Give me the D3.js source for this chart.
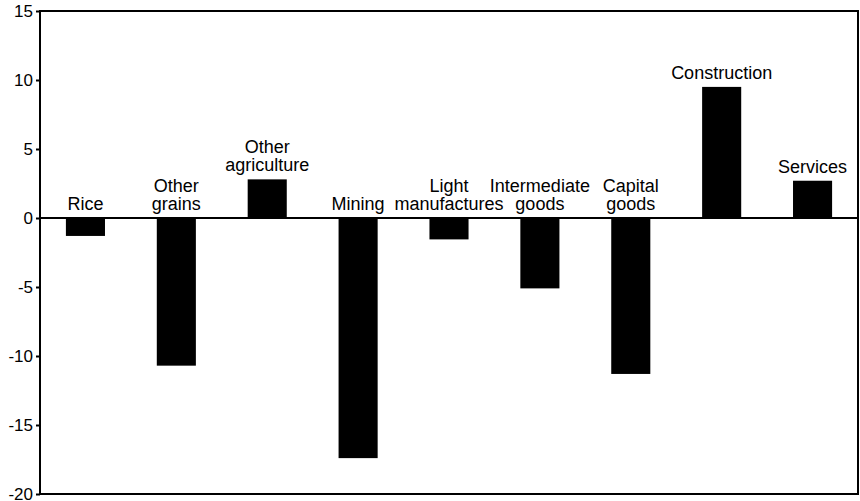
<!DOCTYPE html>
<html><head><meta charset="utf-8">
<script src="https://cdn.jsdelivr.net/npm/d3@7"></script>
<style>body{margin:0;background:#fff}svg{display:block}text{font-family:"Liberation Sans",Arial,Helvetica,sans-serif;fill:#000}</style>
</head><body><svg id="c" width="860" height="501"></svg>
<script>
const categories = [["Rice"],["Other","grains"],["Other","agriculture"],["Mining"],["Light","manufactures"],["Intermediate","goods"],["Capital","goods"],["Construction"],["Services"]];
const values = [-1.3, -10.7, 2.8, -17.4, -1.55, -5.1, -11.3, 9.5, 2.7];
const yTicks = [15, 10, 5, 0, -5, -10, -15, -20];

const svg = d3.select("#c");
const L = 40, R = 858, T = 11, B = 494;
const x = d3.scaleBand().domain(categories.map((d,i)=>i)).range([L,R]).paddingInner(0.57).paddingOuter(0.285);
const y = d3.scaleLinear().domain([-20,15]).range([B,T]);

// bars
svg.selectAll("rect.bar").data(values).enter().append("rect")
  .attr("x",(d,i)=>x(i)).attr("width",x.bandwidth())
  .attr("y",d=>y(Math.max(0,d))).attr("height",d=>Math.abs(y(d)-y(0)))
  .attr("fill","#000");

// zero line
svg.append("line").attr("x1",L).attr("x2",R).attr("y1",y(0)).attr("y2",y(0)).attr("stroke","#000").attr("stroke-width",2);

// frame
svg.append("rect").attr("x",L).attr("y",T).attr("width",R-L).attr("height",B-T).attr("fill","none").attr("stroke","#000").attr("stroke-width",2);

// y axis
const ax = svg.append("g").attr("transform",`translate(${L},0)`).call(d3.axisLeft(y).tickValues(yTicks).tickSize(4).tickPadding(3).tickFormat(d=>String(d)));
ax.select(".domain").remove();
ax.selectAll(".tick line").attr("stroke","#000").attr("stroke-width",2);
ax.selectAll(".tick text").attr("font-size",17).attr("fill","#000").style("font-family",'"Liberation Sans",Arial,sans-serif');

// labels
const lh = 18;
categories.forEach((lines,i)=>{
  const base = y(Math.max(0,values[i])) - 8;
  const t = svg.append("text").attr("text-anchor","middle").attr("font-size",18)
    .attr("x", x(i)+x.bandwidth()/2);
  lines.forEach((s,j)=>{
    t.append("tspan").attr("x", x(i)+x.bandwidth()/2).attr("y", base - (lines.length-1-j)*lh).text(s);
  });
});
</script></body></html>
